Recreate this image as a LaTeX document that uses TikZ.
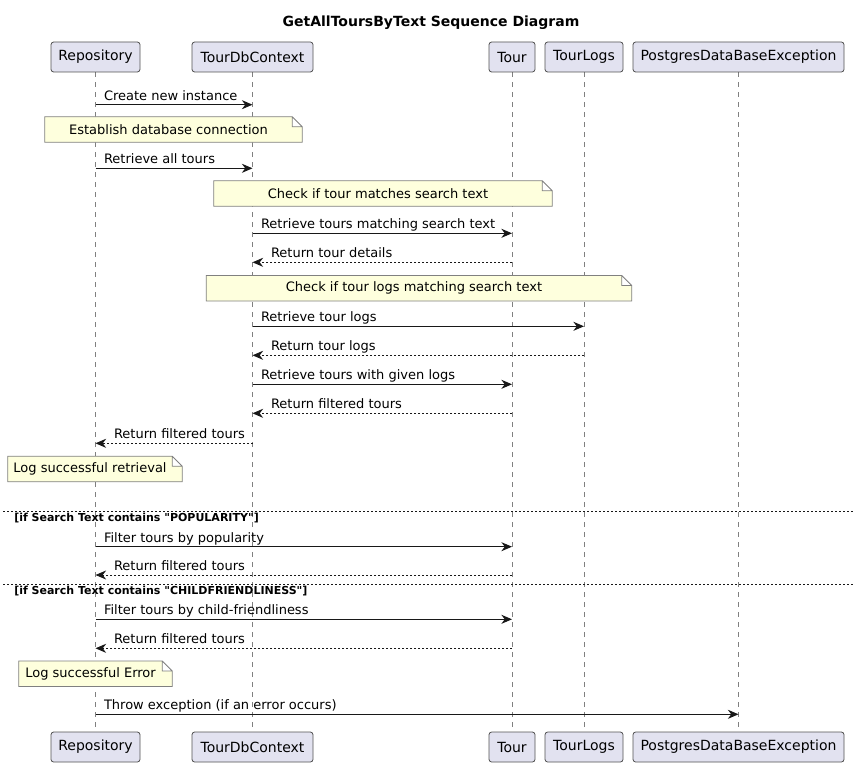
\documentclass[tikz,border=0pt]{standalone}
\usepackage{fontspec}
\setmainfont{DejaVu Sans}
\usetikzlibrary{arrows.meta}
\definecolor{partfill}{HTML}{E2E2F0}
\definecolor{notefill}{HTML}{FEFFDD}
\definecolor{ink}{HTML}{181818}
\pgfdeclarelayer{back}
\pgfdeclarelayer{mid}
\pgfsetlayers{back,mid,main}
\tikzset{
  part/.style={draw=ink!75, fill=partfill, rounded corners=2pt, line width=0.6pt,
    minimum height=22.5pt, inner xsep=2pt, font=\fontsize{10.5}{12}\selectfont},
  lifeline/.style={draw=ink!55, line width=0.6pt, dash pattern=on 3.75pt off 3.75pt},
  msg/.style={draw=ink, line width=0.75pt, -{Stealth[length=8pt,width=6.8pt,inset=2.6pt]}},
  ret/.style={msg, dash pattern=on 1.5pt off 1.5pt},
  lblfwd/.style={pos=0, anchor=base west, inner sep=0pt, xshift=6pt, yshift=3.5pt,
    font=\fontsize{9.75}{12}\selectfont},
  lblback/.style={pos=1, anchor=base west, inner sep=0pt, xshift=13.5pt, yshift=3.5pt,
    font=\fontsize{9.75}{12}\selectfont},
  note/.style={inner sep=0pt, minimum height=18.75pt, font=\fontsize{9.75}{12}\selectfont,
    execute at end node=\hspace{7.5pt}},
  notebox/.style={draw=ink!55, fill=notefill, line width=0.6pt},
  divider/.style={draw=ink, line width=0.6pt, dash pattern=on 1.5pt off 1.5pt},
  guard/.style={inner sep=0pt, anchor=west, font=\fontsize{8.25}{10}\bfseries\selectfont},
}
\begin{document}
\begin{tikzpicture}[x=0.75pt, y=-0.75pt]
  \useasboundingbox (0,0) rectangle (860,767);
  \node[font=\fontsize{10.5}{12}\bfseries\selectfont] (title) at (431,23) {GetAllToursByText Sequence Diagram};

  % participants, top and bottom
  \node[part, minimum width=66.75pt] (rep-top) at (95.5,57) {Repository};
  \node[part, minimum width=90.75pt] (ctx-top) at (252.5,57) {TourDbContext};
  \node[part, minimum width=34.5pt] (tour-top) at (512,57) {Tour};
  \node[part, minimum width=58.5pt] (logs-top) at (584,57) {TourLogs};
  \node[part, minimum width=158.25pt] (exc-top) at (738.5,57) {PostgresDataBaseException};
  \node[part, minimum width=66.75pt] (rep-bot) at (95.5,747) {Repository};
  \node[part, minimum width=90.75pt] (ctx-bot) at (252.5,747) {TourDbContext};
  \node[part, minimum width=34.5pt] (tour-bot) at (512,747) {Tour};
  \node[part, minimum width=58.5pt] (logs-bot) at (584,747) {TourLogs};
  \node[part, minimum width=158.25pt] (exc-bot) at (738.5,747) {PostgresDataBaseException};
  \begin{pgfonlayer}{back}
    \foreach \p in {rep,ctx,tour,logs,exc}
      \draw[lifeline] (\p-top.south) -- (\p-bot.north);
  \end{pgfonlayer}

  % notes
  \node[note, minimum width=192.75pt] (n1) at (173.5,129.5) {Establish database connection};
  \node[note, minimum width=253.5pt] (n2) at (383,193.5) {Check if tour matches search text};
  \node[note, minimum width=318.75pt] (n3) at (419,288.3) {Check if tour logs matching search text};
  \node[note, minimum width=130.5pt] (n4) at (95,469) {Log successful retrieval};
  \node[note, minimum width=114.75pt] (n5) at (95.5,673.8) {Log successful Error};
  \begin{pgfonlayer}{mid}
    \foreach \n in {n1,n2,n3,n4,n5}
      \draw[notebox] (\n.south west) -- (\n.north west) -- ([xshift=-7.5pt]\n.north east)
        -- ([yshift=-7.5pt]\n.north east) -- (\n.south east) -- cycle
        ([xshift=-7.5pt]\n.north east) |- ([yshift=-7.5pt]\n.north east);
  \end{pgfonlayer}

  % messages
  \draw[msg] (rep-top |- 0,104.7) -- node[lblfwd] {Create new instance} (ctx-top |- 0,104.7);
  \draw[msg] (rep-top |- 0,168.3) -- node[lblfwd] {Retrieve all tours} (ctx-top |- 0,168.3);
  \draw[msg] (ctx-top |- 0,233.3) -- node[lblfwd] {Retrieve tours matching search text} (tour-top |- 0,233.3);
  \draw[ret] (tour-top |- 0,262.3) -- node[lblback] {Return tour details} (ctx-top |- 0,262.3);
  \draw[msg] (ctx-top |- 0,326.3) -- node[lblfwd] {Retrieve tour logs} (logs-top |- 0,326.3);
  \draw[ret] (logs-top |- 0,355.3) -- node[lblback] {Return tour logs} (ctx-top |- 0,355.3);
  \draw[msg] (ctx-top |- 0,384.3) -- node[lblfwd] {Retrieve tours with given logs} (tour-top |- 0,384.3);
  \draw[ret] (tour-top |- 0,413.3) -- node[lblback] {Return filtered tours} (ctx-top |- 0,413.3);
  \draw[ret] (ctx-top |- 0,443.3) -- node[lblback] {Return filtered tours} (rep-top |- 0,443.3);

  % alternatives
  \draw[divider] (3,511.3) -- (855,511.3);
  \node[guard] (g1) at (14,518.5) {[if Search Text contains \textquotedbl POPULARITY\textquotedbl]};
  \draw[msg] (rep-top |- 0,546.7) -- node[lblfwd] {Filter tours by popularity} (tour-top |- 0,546.7);
  \draw[ret] (tour-top |- 0,575) -- node[lblback] {Return filtered tours} (rep-top |- 0,575);
  \draw[divider] (3,584.3) -- (855,584.3);
  \node[guard] (g2) at (14,591) {[if Search Text contains \textquotedbl CHILDFRIENDLINESS\textquotedbl]};
  \draw[msg] (rep-top |- 0,619.3) -- node[lblfwd] {Filter tours by child-friendliness} (tour-top |- 0,619.3);
  \draw[ret] (tour-top |- 0,648.3) -- node[lblback] {Return filtered tours} (rep-top |- 0,648.3);

  \draw[msg] (rep-top |- 0,714.3) -- node[lblfwd] {Throw exception (if an error occurs)} (exc-top |- 0,714.3);
\end{tikzpicture}
\end{document}
